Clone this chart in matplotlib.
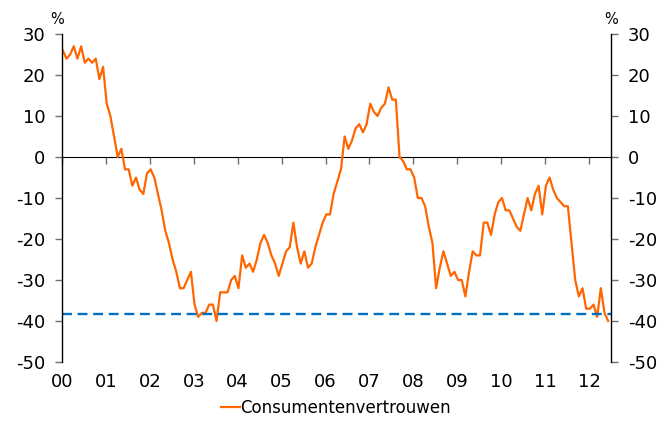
import matplotlib
matplotlib.use("Agg")
import matplotlib.pyplot as plt

# Consumentenvertrouwen, monthly, Jan 2000 - Jun 2012
start_year = 2000
confidence = [
    26, 24, 25, 27, 24, 27, 23, 24, 23, 24, 19, 22,          # 2000
    13, 10, 5, 0, 2, -3, -3, -7, -5, -8, -9, -4,             # 2001
    -3, -5, -9, -13, -18, -21, -25, -28, -32, -32, -30, -28, # 2002
    -36, -39, -38, -38, -36, -36, -40, -33, -33, -33, -30, -29,  # 2003
    -32, -24, -27, -26, -28, -25, -21, -19, -21, -24, -26, -29,  # 2004
    -26, -23, -22, -16, -22, -26, -23, -27, -26, -22, -19, -16,  # 2005
    -14, -14, -9, -6, -3, 5, 2, 4, 7, 8, 6, 8,               # 2006
    13, 11, 10, 12, 13, 17, 14, 14, 0, -1, -3, -3,           # 2007
    -5, -10, -10, -12, -17, -21, -32, -27, -23, -26, -29, -28,   # 2008
    -30, -30, -34, -28, -23, -24, -24, -16, -16, -19, -14, -11,  # 2009
    -10, -13, -13, -15, -17, -18, -14, -10, -13, -9, -7, -14,    # 2010
    -7, -5, -8, -10, -11, -12, -12, -21, -30, -34, -32, -37,     # 2011
    -37, -36, -39, -32, -38, -40,                            # 2012
]
reference_level = -38.3
year_labels = ["00", "01", "02", "03", "04", "05", "06", "07", "08", "09", "10", "11", "12"]
series_name = "Consumentenvertrouwen"

orange = "#FF6600"
blue = "#0070C0"

plt.rcParams["font.family"] = "DejaVu Sans"
plt.rcParams["axes.unicode_minus"] = False

fig = plt.figure(figsize=(6.66, 4.21), dpi=100)
ax = fig.add_axes([0.0931, 0.1401, 0.8243, 0.7791])

x = [start_year + (i + 0.22) / 12 for i in range(len(confidence))]
ax.plot(x, confidence, color=orange, lw=1.6, label=series_name)
ax.axhline(reference_level, color=blue, lw=1.7, dashes=(4.2, 2.4))

ax.set_xlim(start_year, start_year + 12.5)
ax.set_ylim(-50, 30)

ax.set_yticks(range(-50, 31, 10))
ax.tick_params(axis="y", direction="out", length=5, width=1, color="#707070",
               labelsize=13, pad=7, left=True, right=True,
               labelleft=True, labelright=True)

ticks = [start_year + k for k in range(len(year_labels))]
ax.set_xticks(ticks)
ax.set_xticklabels(year_labels)
ax.tick_params(axis="x", length=0, labelsize=13, pad=8)

for side in ("top", "bottom"):
    ax.spines[side].set_visible(False)
for side in ("left", "right"):
    ax.spines[side].set_color("black")
    ax.spines[side].set_linewidth(1)

# zero line carrying the year tick marks
zero = ax.secondary_xaxis(50 / 80)
zero.set_xticks(ticks)
zero.set_xticklabels([])
zero.xaxis.set_ticks_position("bottom")
zero.tick_params(direction="out", length=5, width=1, color="#707070")
zero.spines["bottom"].set_color("black")
zero.spines["bottom"].set_linewidth(1.2)

ax.text(-0.009, 1.02, "%", transform=ax.transAxes, ha="center", va="bottom", fontsize=10.5)
ax.text(1.0, 1.02, "%", transform=ax.transAxes, ha="center", va="bottom", fontsize=10.5)

fig.legend(loc="lower center", bbox_to_anchor=(0.505, -0.025), frameon=False,
           fontsize=12, handlelength=1.1, handletextpad=0.05)

fig.savefig("out.png", dpi=100)
plt.close(fig)
